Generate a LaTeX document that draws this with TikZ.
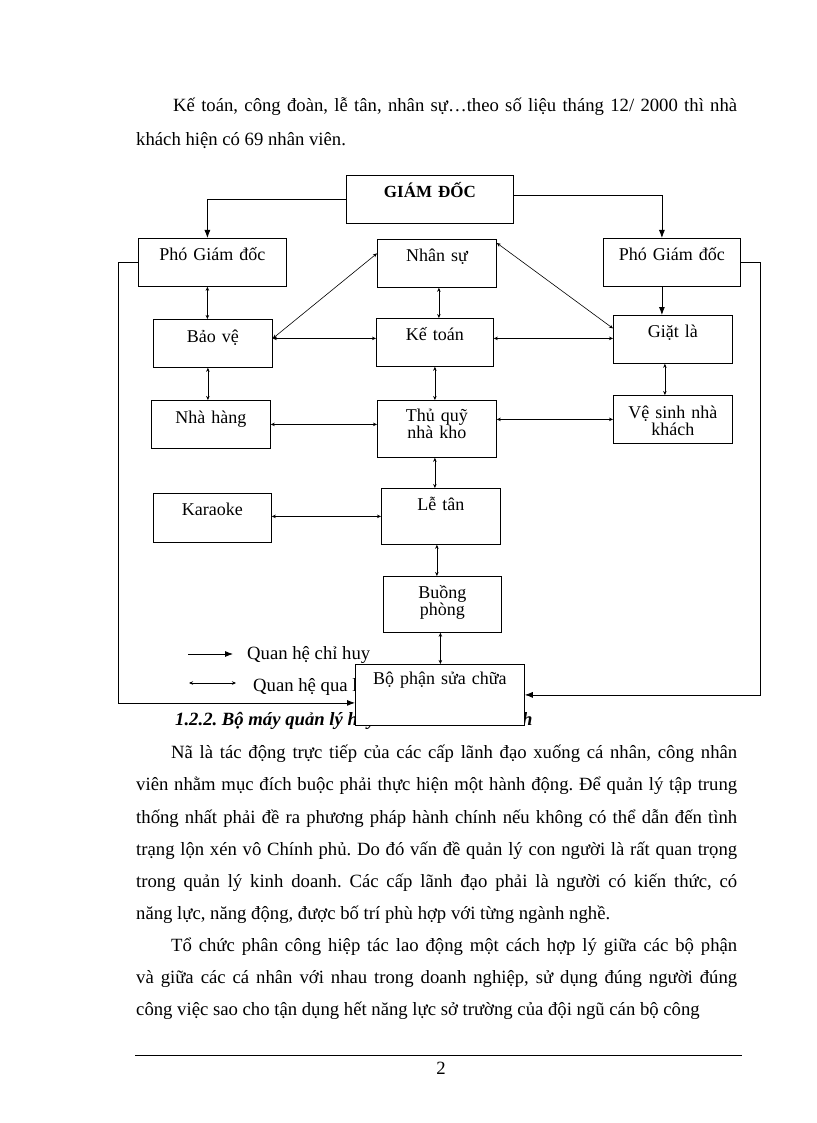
\documentclass[tikz,border=0pt]{standalone}
\usepackage{fontspec}
\setmainfont{Liberation Serif}
\usetikzlibrary{arrows.meta}
\newcommand\bodyfont{\fontsize{18.7}{32.6}\selectfont\frenchspacing}
\newcommand\boxfont{\fontsize{18}{17}\selectfont}

\begin{document}
\begin{tikzpicture}[
        x=1pt, y=-1pt,
        box/.style={draw, line width=0.8pt, fill=white, inner sep=0pt, align=center, anchor=north west, font=\boxfont},
        txt/.style={anchor=base west, inner sep=0pt, font=\bodyfont},
        cmd/.style={draw, line width=0.8pt, -{Latex[length=8pt,width=6pt]}},
        mutual/.style={draw, line width=0.6pt, {Stealth[length=4pt,width=3.5pt]}-{Stealth[length=4pt,width=3.5pt]}}
      ]
      \path[use as bounding box, fill=white] (0,0) rectangle (816,1123);

      % text of the page
      \node[txt] (t1) at (173,112) {\makebox[564pt][s]{Kế toán, công đoàn, lễ tân, nhân sự…theo số liệu tháng 12/ 2000 thì nhà}};
      \node[txt] (t2) at (136,146) {khách hiện có 69 nhân viên.};
      \node[txt, font=\bodyfont\bfseries\itshape] (head) at (175,725) {1.2.2. Bộ máy quản lý hay tổ chức hành chính};
      \node[txt] (p1) at (171,758) {\makebox[566pt][s]{Nã là tác động trực tiếp của các cấp lãnh đạo xuống cá nhân, công nhân}};
      \node[txt] (p2) at (136,790) {\makebox[601pt][s]{viên nhằm mục đích buộc phải thực hiện một hành động. Để quản lý tập trung}};
      \node[txt] (p3) at (136,823) {\makebox[601pt][s]{thống nhất phải đề ra phương pháp hành chính nếu không có thể dẫn đến tình}};
      \node[txt] (p4) at (136,855) {\makebox[601pt][s]{trạng lộn xén vô Chính phủ. Do đó vấn đề quản lý con người là rất quan trọng}};
      \node[txt] (p5) at (136,887) {\makebox[601pt][s]{trong quản lý kinh doanh. Các cấp lãnh đạo phải là người có kiến thức, có}};
      \node[txt] (p6) at (136,919) {năng lực, năng động, được bố trí phù hợp với từng ngành nghề.};
      \node[txt] (p7) at (171,951) {\makebox[566pt][s]{Tổ chức phân công hiệp tác lao động một cách hợp lý giữa các bộ phận}};
      \node[txt] (p8) at (136,983) {\makebox[601pt][s]{và giữa các cá nhân với nhau trong doanh nghiệp, sử dụng đúng người đúng}};
      \node[txt] (p9) at (136,1015) {công việc sao cho tận dụng hết năng lực sở trường của đội ngũ cán bộ công};
      \draw[line width=0.6pt] (135,1055) -- (742,1055);
      \node[txt, anchor=base] (page) at (441,1074) {2};

      % legend
      \coordinate (k1) at (188,654);
      \coordinate (k2) at (233,654);
      \coordinate (k3) at (189,683);
      \coordinate (k4) at (236,683);
      \draw[cmd] (k1) -- (k2);
      \draw[mutual] (k3) -- (k4);
      \node[txt] (lg1) at (247,659) {Quan hệ chỉ huy};
      \node[txt] (lg2) at (253,691) {Quan hệ qua lại};

      % boxes
      \node[box, text width=167pt, text height=22pt, text depth=26pt] (gd) at (346,175) {\fontsize{17}{17}\selectfont\bfseries GIÁM ĐỐC};
      \node[box, text width=148pt, text height=22pt, text depth=26pt] (pgd1) at (138,238) {Phó Giám đốc};
      \node[box, text width=119pt, text height=22pt, text depth=26pt] (ns) at (377,239) {Nhân sự};
      \node[box, text width=137pt, text height=22pt, text depth=26pt] (pgd2) at (603,238) {Phó Giám đốc};
      \node[box, text width=119pt, text height=23pt, text depth=25pt] (bv) at (153,319) {Bảo vệ};
      \node[box, text width=117pt, text height=22pt, text depth=26pt] (kt) at (376,318) {Kế toán};
      \node[box, text width=119pt, text height=22pt, text depth=26pt] (gl) at (613,315) {Giặt là};
      \node[box, text width=119pt, text height=23pt, text depth=25pt] (nh) at (151,400) {Nhà hàng};
      \node[box, text width=119pt, text height=21pt, text depth=36pt] (tq) at (377,400) {Thủ quỹ\\nhà kho};
      \node[box, text width=119pt, text height=23pt, text depth=25pt] (vs) at (613,395) {Vệ sinh nhà\\khách};
      \node[box, text width=118pt, text height=22pt, text depth=27pt] (ka) at (153,493) {Karaoke};
      \node[box, text width=119pt, text height=22pt, text depth=34pt] (lt) at (381,488) {Lễ tân};
      \node[box, text width=118pt, text height=22pt, text depth=34pt] (bp) at (383,576) {Buồng\\phòng};
      \node[box, text width=169pt, text height=20pt, text depth=41pt] (sc) at (355,664) {Bộ phận sửa chữa};

      % command lines
      \draw[cmd] (gd.west) -| ([xshift=-5pt]pgd1.north);
      \draw[cmd] ([yshift=4pt]gd.east) -| ([xshift=-10pt]pgd2.north);
      \draw[cmd] ([xshift=-10pt]pgd2.south) -- ([xshift=-10pt]pgd2.south |- gl.north);
      \draw[cmd] (pgd1.west) -- ++(-20,0) |- ([yshift=-8pt]sc.west);
      \draw[cmd] (pgd2.east) -- ++(20,0) |- (sc.east);

      % mutual lines
      \draw[mutual] ([xshift=-5pt]pgd1.south) -- ([xshift=-5pt]pgd1.south |- bv.north);
      \draw[mutual] ([xshift=-5pt]bv.south) -- ([xshift=-5pt]bv.south |- nh.north);
      \draw[mutual] ([xshift=2pt]ns.south) -- ([xshift=2pt]ns.south |- kt.north);
      \draw[mutual] (kt.south) -- (kt.south |- tq.north);
      \draw[mutual] ([xshift=-2pt]tq.south) -- ([xshift=-2pt]tq.south |- lt.north);
      \draw[mutual] ([xshift=-4pt]lt.south) -- ([xshift=-4pt]lt.south |- bp.north);
      \draw[mutual] ([xshift=-2pt]bp.south) -- ([xshift=-2pt]bp.south |- sc.north);
      \draw[mutual] ([xshift=-8pt]gl.south) -- ([xshift=-8pt]gl.south |- vs.north);
      \draw[mutual] ([yshift=4pt]kt.west) -- ([yshift=4pt]kt.west -| bv.east);
      \draw[mutual] ([yshift=4pt]kt.east) -- ([yshift=4pt]kt.east -| gl.west);
      \draw[mutual] (nh.east) -- (nh.east -| tq.west);
      \draw[mutual] (vs.west) -- (vs.west -| tq.east);
      \draw[mutual] (lt.west) -- (lt.west -| ka.east);
      \draw[mutual] ([yshift=5pt]bv.east) -- ([yshift=10pt]ns.west);
      \draw[mutual] ([yshift=-4pt]ns.north east) -- ([yshift=11pt]gl.west);
\end{tikzpicture}
\end{document}
